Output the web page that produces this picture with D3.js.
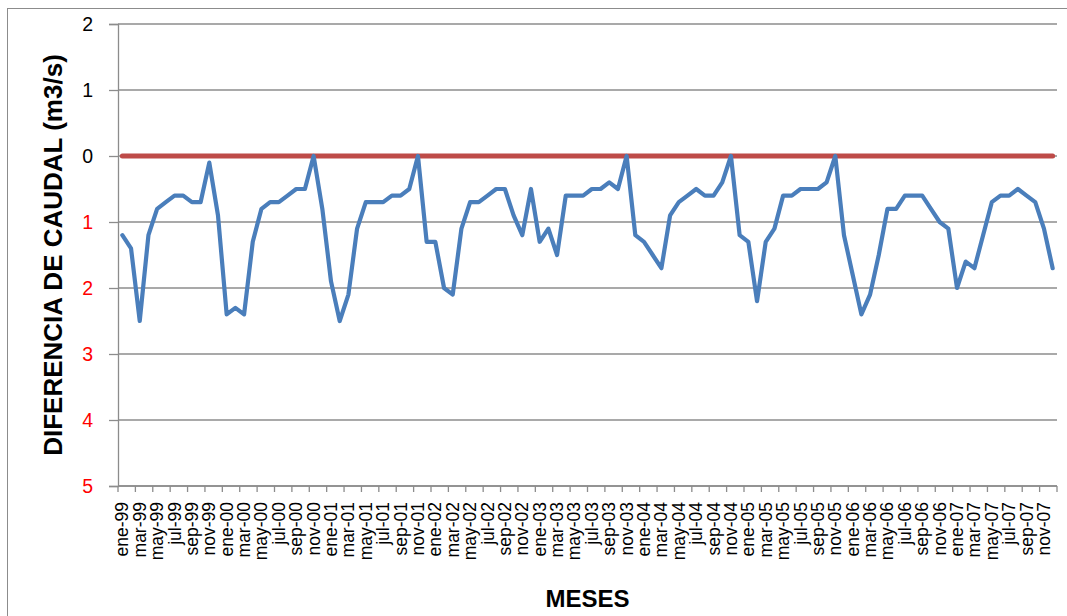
<!DOCTYPE html>
<html>
<head>
<meta charset="utf-8">
<script src="https://cdn.jsdelivr.net/npm/d3@7"></script>
<style>
  html, body { margin: 0; padding: 0; background: #fff; }
  svg { display: block; }
</style>
</head>
<body>
<svg id="chart" width="1067" height="616"></svg>
<script>
const monthNames = ["ene","feb","mar","abr","may","jun","jul","ago","sep","oct","nov","dic"];
const years = ["99","00","01","02","03","04","05","06","07"];
const categories = years.flatMap(y => monthNames.map(m => m + "-" + y));

const diferencia = [
  -1.2, -1.4, -2.5, -1.2, -0.8, -0.7, -0.6, -0.6, -0.7, -0.7, -0.1, -0.9,
  -2.4, -2.3, -2.4, -1.3, -0.8, -0.7, -0.7, -0.6, -0.5, -0.5,  0.0, -0.8,
  -1.9, -2.5, -2.1, -1.1, -0.7, -0.7, -0.7, -0.6, -0.6, -0.5,  0.0, -1.3,
  -1.3, -2.0, -2.1, -1.1, -0.7, -0.7, -0.6, -0.5, -0.5, -0.9, -1.2, -0.5,
  -1.3, -1.1, -1.5, -0.6, -0.6, -0.6, -0.5, -0.5, -0.4, -0.5,  0.0, -1.2,
  -1.3, -1.5, -1.7, -0.9, -0.7, -0.6, -0.5, -0.6, -0.6, -0.4,  0.0, -1.2,
  -1.3, -2.2, -1.3, -1.1, -0.6, -0.6, -0.5, -0.5, -0.5, -0.4,  0.0, -1.2,
  -1.8, -2.4, -2.1, -1.5, -0.8, -0.8, -0.6, -0.6, -0.6, -0.8, -1.0, -1.1,
  -2.0, -1.6, -1.7, -1.2, -0.7, -0.6, -0.6, -0.5, -0.6, -0.7, -1.1, -1.7
];
const referencia = categories.map(() => 0);

const yTicks = [2, 1, 0, -1, -2, -3, -4, -5];
const tickLabels = categories.filter((c, i) => i % 2 === 0);

const yTitle = "DIFERENCIA DE CAUDAL (m3/s)";
const xTitle = "MESES";

(function () {
const svg = d3.select("#chart");
const pLeft = 118, pRight = 1057, pTop = 24, pBottom = 486;
const font = "'Liberation Sans', Arial, sans-serif";
const grid = "#8c8c8c";

// outer border
svg.append("rect").attr("x", 7.5).attr("y", 8.5).attr("width", 1070).attr("height", 640)
  .attr("fill", "none").attr("stroke", "#8c8c8c").attr("stroke-width", 1);

const x = d3.scaleBand().domain(categories).range([pLeft, pRight]);
const y = d3.scaleLinear().domain([-5, 2]).range([pBottom, pTop]);
const bw = x.bandwidth();

// gridlines
svg.append("g").selectAll("line").data(yTicks).join("line")
  .attr("x1", pLeft).attr("x2", pRight)
  .attr("y1", d => y(d)).attr("y2", d => y(d))
  .attr("stroke", grid).attr("stroke-width", 1.3);

// y axis
const yAxis = svg.append("g").attr("transform", `translate(${pLeft},0)`)
  .call(d3.axisLeft(y).tickValues(yTicks).tickSize(9).tickPadding(16)
    .tickFormat(d => d3.format("d")(Math.abs(d))));
yAxis.select(".domain").attr("stroke", grid).attr("stroke-width", 1.3);
yAxis.selectAll(".tick line").attr("stroke", grid).attr("stroke-width", 1.3);
yAxis.selectAll(".tick text")
  .attr("font-family", font).attr("font-size", 19.5)
  .attr("fill", d => d < 0 ? "#ff0000" : "#000");

// x axis: ticks every 2 categories at boundaries
const xAxisG = svg.append("g").attr("transform", `translate(0,${pBottom})`);
xAxisG.append("line").attr("x1", pLeft).attr("x2", pRight).attr("y1", 0).attr("y2", 0)
  .attr("stroke", grid).attr("stroke-width", 1.3);
const boundaryCats = categories.filter((c, i) => i % 2 === 0);
xAxisG.selectAll("line.tk").data(boundaryCats.concat(["__end"])).join("line")
  .attr("class", "tk")
  .attr("x1", d => d === "__end" ? pRight : x(d))
  .attr("x2", d => d === "__end" ? pRight : x(d))
  .attr("y1", 0).attr("y2", 6)
  .attr("stroke", grid).attr("stroke-width", 1.3);
xAxisG.selectAll("text").data(tickLabels).join("text")
  .attr("transform", d => `translate(${x(d) + bw / 2},16) rotate(-90)`)
  .attr("text-anchor", "end").attr("dominant-baseline", "central")
  .attr("font-family", font).attr("font-size", 17.5).attr("fill", "#000")
  .text(d => d);

// series
const line = d3.line().x((d, i) => x(categories[i]) + bw / 2).y(d => y(d));
svg.append("path").datum(referencia).attr("d", line)
  .attr("fill", "none").attr("stroke", "#BE4B48").attr("stroke-width", 5)
  .attr("stroke-linecap", "round").attr("stroke-linejoin", "round");
svg.append("path").datum(diferencia).attr("d", line)
  .attr("fill", "none").attr("stroke", "#4A7EBB").attr("stroke-width", 4.2)
  .attr("stroke-linecap", "round").attr("stroke-linejoin", "round");

// titles
svg.append("text").attr("x", (pLeft + pRight) / 2).attr("y", 607)
  .attr("text-anchor", "middle").attr("font-family", font).attr("font-weight", "bold")
  .attr("font-size", 24).attr("fill", "#000").text(xTitle);
svg.append("text").attr("transform", `translate(62,${(pTop + pBottom) / 2}) rotate(-90)`)
  .attr("text-anchor", "middle").attr("font-family", font).attr("font-weight", "bold")
  .attr("font-size", 26).attr("fill", "#000").text(yTitle);
})();
</script>
</body>
</html>
